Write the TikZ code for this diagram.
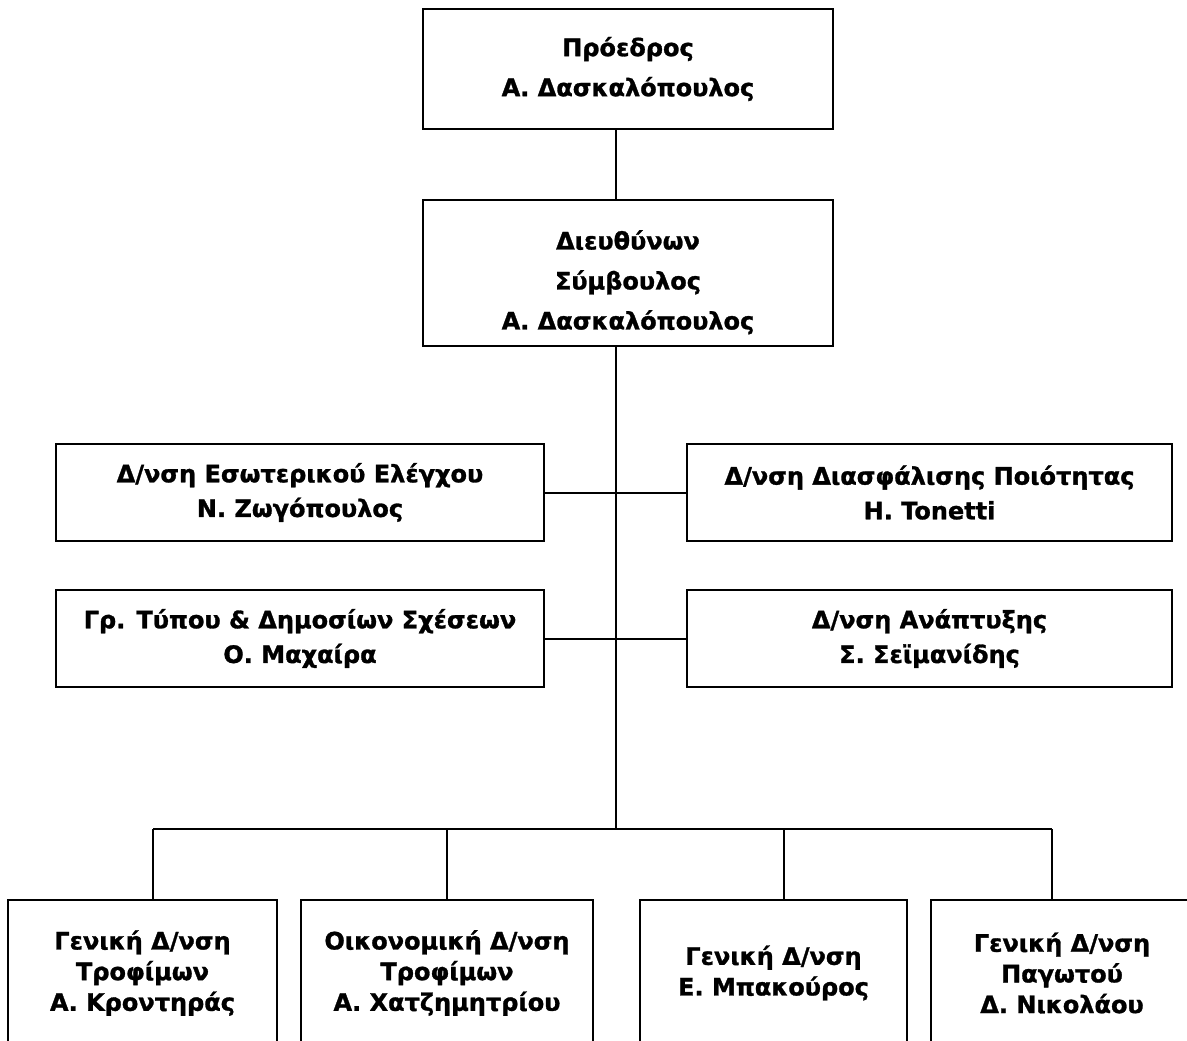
\documentclass[tikz,border=0pt]{standalone}
\usepackage{fontspec}
\setmainfont{DejaVu Sans}[BoldFeatures={FakeBold=1.2}]
\usepackage{tikz}

\tikzset{
	unit/.style={draw, line width=1.5pt, align=center, inner sep=0pt,
		font=\bfseries\fontsize{18}{26}\selectfont},
	wide/.style={font=\bfseries\fontsize{18}{30}\selectfont},
	low/.style={font=\bfseries\fontsize{18}{23}\selectfont},
	link/.style={line width=1.5pt}
}

\begin{document}
\begin{tikzpicture}[x=0.75pt, y=-0.75pt]
			\clip (0,0) rectangle (1187,1040);
			\fill[white] (0,0) rectangle (1187,1040);
			
			\node[unit, wide, minimum width=307.5pt, minimum height=90pt] (pres) at (628,69) {Πρόεδρος\\Α. Δασκαλόπουλος};
			\node[unit, minimum width=307.5pt, minimum height=109.5pt,
				label={[unit, wide, draw=none, yshift=-7pt]center:{Διευθύνων\\Σύμβουλος\\Α. Δασκαλόπουλος}}] (ceo) at (628,273) {};
			
			\node[unit, minimum width=366pt, minimum height=72.75pt] (audit) at (300,492.5) {Δ/νση Εσωτερικού Ελέγχου\\Ν. Ζωγόπουλος};
			\node[unit, minimum width=363.75pt, minimum height=72.75pt] (quality) at (929.5,492.5) {Δ/νση Διασφάλισης Ποιότητας\\H. Tonetti};
			\node[unit, minimum width=366pt, minimum height=72.75pt] (press) at (300,638.5) {Γρ. Τύπου \& Δημοσίων Σχέσεων\\Ο. Μαχαίρα};
			\node[unit, minimum width=363.75pt, minimum height=72.75pt] (devel) at (929.5,638.5) {Δ/νση Ανάπτυξης\\Σ. Σεϊμανίδης};
			
			\node[unit, low, minimum width=201.75pt, minimum height=109.5pt] (food) at (142.5,973) {Γενική Δ/νση\\Τροφίμων\\Α. Κροντηράς};
			\node[unit, low, minimum width=219pt, minimum height=109.5pt] (fin) at (447,973) {Οικονομική Δ/νση\\Τροφίμων\\Α. Χατζημητρίου};
			\node[unit, low, minimum width=200.25pt, minimum height=109.5pt] (gen) at (773.5,973) {Γενική Δ/νση\\Ε. Μπακούρος};
			\node[unit, low, minimum width=196.5pt, minimum height=109.5pt] (ice) at (1062,973) {Γενική Δ/νση\\Παγωτού\\Δ. Νικολάου};
			
			% trunk and bus
			\coordinate (bus) at (616,829);
			\coordinate (d1) at (153,829);
			\coordinate (d2) at (447,829);
			\coordinate (d3) at (784,829);
			\coordinate (d4) at (1052,829);
			
			\draw[link] (pres.south -| bus) -- (ceo.north -| bus);
			\draw[link] (ceo.south -| bus) -- (bus);
			\draw[link] (audit.east) -- (quality.west);
			\draw[link] (press.east) -- (devel.west);
			
			\draw[link] (d1) -- (d4);
			\draw[link] (d1) -- (d1 |- food.north);
			\draw[link] (d2) -- (d2 |- fin.north);
			\draw[link] (d3) -- (d3 |- gen.north);
			\draw[link] (d4) -- (d4 |- ice.north);
			\end{tikzpicture}
\end{document}
